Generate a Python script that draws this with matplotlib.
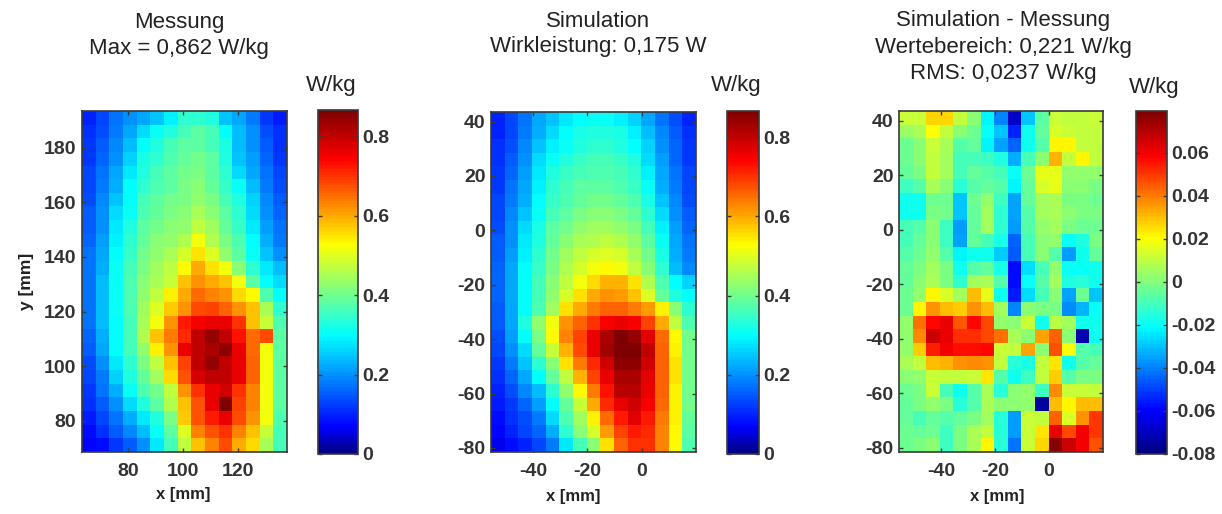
import matplotlib
matplotlib.use("Agg")
import matplotlib.pyplot as plt
from matplotlib.colors import LinearSegmentedColormap
import numpy as np

plt.rcParams['font.family'] = ['Liberation Sans', 'DejaVu Sans']
plt.rcParams['axes.unicode_minus'] = False

W = 1222
H = 514

# Messung, W/kg, top row first
messung = [
    [.10, .13, .17, .20, .22, .25, .29, .34, .34, .33, .25, .22, .18, .12, .09],
    [.11, .14, .18, .22, .27, .31, .33, .36, .38, .36, .30, .24, .20, .14, .11],
    [.12, .15, .19, .24, .30, .33, .36, .38, .38, .36, .32, .24, .20, .15, .11],
    [.12, .16, .20, .26, .32, .34, .37, .39, .40, .38, .33, .25, .21, .16, .12],
    [.13, .17, .22, .28, .33, .36, .38, .40, .41, .38, .34, .27, .22, .17, .13],
    [.13, .18, .23, .30, .34, .37, .38, .41, .42, .39, .35, .31, .24, .18, .14],
    [.14, .19, .25, .30, .36, .38, .40, .41, .43, .41, .36, .33, .26, .19, .15],
    [.15, .20, .27, .31, .37, .39, .41, .42, .45, .42, .38, .34, .27, .20, .16],
    [.15, .20, .28, .33, .38, .40, .42, .43, .47, .44, .39, .35, .28, .21, .17],
    [.16, .21, .29, .34, .39, .42, .43, .46, .52, .46, .41, .37, .30, .23, .18],
    [.17, .22, .30, .35, .40, .43, .45, .49, .55, .50, .43, .38, .31, .25, .20],
    [.17, .23, .31, .36, .41, .44, .47, .53, .60, .55, .52, .42, .34, .28, .24],
    [.17, .24, .31, .37, .42, .45, .48, .58, .62, .60, .58, .52, .38, .30, .27],
    [.17, .24, .31, .37, .43, .47, .54, .60, .65, .63, .62, .56, .53, .37, .30],
    [.17, .24, .31, .37, .44, .50, .57, .62, .68, .69, .66, .62, .58, .45, .34],
    [.17, .24, .30, .36, .45, .52, .62, .72, .75, .76, .76, .70, .58, .48, .37],
    [.16, .23, .30, .36, .46, .58, .64, .71, .80, .84, .80, .73, .65, .68, .38],
    [.15, .22, .30, .36, .43, .54, .62, .76, .80, .82, .85, .76, .65, .52, .38],
    [.14, .20, .28, .34, .41, .47, .58, .69, .80, .84, .80, .76, .66, .52, .38],
    [.13, .18, .26, .33, .39, .44, .56, .67, .78, .80, .80, .76, .66, .52, .38],
    [.12, .17, .23, .31, .37, .40, .47, .62, .70, .76, .79, .70, .63, .52, .38],
    [.11, .15, .20, .27, .33, .38, .46, .58, .67, .76, .86, .69, .63, .52, .38],
    [.09, .13, .17, .23, .28, .33, .41, .57, .67, .72, .76, .68, .62, .52, .37],
    [.08, .11, .15, .19, .24, .31, .38, .50, .63, .67, .70, .63, .58, .48, .36],
    [.07, .08, .12, .15, .20, .28, .36, .47, .58, .63, .68, .60, .56, .45, .36],
]

simulation = [
    [.10, .13, .17, .22, .25, .28, .30, .31, .31, .29, .26, .22, .17, .14, .10],
    [.10, .13, .18, .23, .27, .30, .32, .33, .33, .32, .29, .24, .19, .15, .11],
    [.11, .14, .19, .25, .29, .31, .33, .34, .34, .33, .30, .26, .20, .16, .12],
    [.11, .15, .20, .27, .31, .33, .35, .36, .36, .35, .33, .27, .21, .16, .12],
    [.12, .16, .21, .28, .33, .35, .36, .37, .37, .36, .34, .29, .22, .17, .13],
    [.12, .17, .22, .29, .34, .36, .38, .38, .38, .37, .35, .31, .23, .18, .13],
    [.13, .18, .23, .30, .35, .37, .39, .40, .40, .39, .37, .32, .25, .19, .14],
    [.13, .19, .25, .31, .36, .38, .41, .42, .42, .41, .39, .34, .27, .20, .15],
    [.14, .20, .27, .32, .38, .40, .43, .44, .44, .43, .41, .36, .29, .21, .16],
    [.15, .20, .28, .33, .39, .42, .45, .46, .47, .46, .43, .38, .31, .22, .17],
    [.15, .21, .29, .34, .40, .44, .47, .49, .50, .49, .45, .40, .32, .23, .18],
    [.16, .22, .30, .35, .41, .46, .49, .52, .53, .52, .47, .42, .34, .24, .19],
    [.16, .22, .30, .36, .42, .47, .52, .56, .59, .59, .55, .46, .37, .30, .26],
    [.16, .22, .30, .36, .43, .49, .55, .60, .62, .61, .58, .50, .39, .33, .30],
    [.15, .22, .30, .37, .44, .55, .60, .64, .66, .66, .64, .61, .54, .42, .34],
    [.15, .22, .33, .43, .52, .62, .66, .70, .75, .76, .75, .69, .60, .47, .37],
    [.14, .21, .30, .41, .53, .63, .69, .76, .82, .86, .84, .77, .65, .53, .40],
    [.13, .20, .27, .39, .48, .59, .68, .76, .83, .86, .86, .80, .66, .54, .40],
    [.12, .18, .25, .34, .42, .55, .64, .71, .79, .85, .85, .79, .66, .55, .40],
    [.11, .16, .22, .30, .39, .47, .59, .69, .76, .82, .82, .77, .66, .55, .40],
    [.10, .14, .19, .24, .34, .43, .53, .64, .73, .81, .81, .76, .66, .54, .40],
    [.09, .12, .16, .21, .30, .39, .48, .60, .71, .76, .79, .75, .65, .54, .40],
    [.08, .11, .14, .18, .27, .37, .44, .54, .65, .72, .77, .72, .64, .54, .39],
    [.07, .10, .13, .16, .23, .34, .42, .49, .61, .69, .72, .71, .63, .53, .38],
    [.06, .08, .10, .13, .18, .28, .36, .42, .55, .66, .70, .70, .63, .53, .37],
]

differenz = [
    [.012, .012, .026, .026, .010, .002, -.022, -.04, -.068, -.03, -.006, .012, .010, .010, .012],
    [.004, .007, .020, .010, .001, -.003, -.02, -.03, -.055, -.018, -.005, .014, .012, .010, .010],
    [-.003, .001, .012, .007, -.007, -.005, -.022, -.034, -.045, -.018, -.007, .022, .022, .010, .010],
    [-.003, .001, .010, .005, -.009, -.009, -.011, -.016, -.033, -.009, .001, .032, .010, .022, .010],
    [-.005, -.001, .010, .005, -.009, -.005, -.007, -.009, -.02, -.003, .016, .016, .003, .003, .003],
    [-.011, -.007, .007, .001, -.015, -.007, -.005, -.007, -.022, -.005, .014, .016, .001, .001, -.001],
    [-.018, -.018, -.003, -.003, -.03, -.003, .003, -.011, -.034, -.005, .005, .007, -.001, -.001, -.003],
    [-.018, -.018, -.001, -.002, -.03, -.005, .005, -.013, -.034, -.007, .005, .007, .001, -.001, -.001],
    [-.009, -.007, .001, -.011, -.036, -.005, .005, -.013, -.036, -.007, .003, .005, -.001, -.003, -.003],
    [-.009, -.005, .001, -.011, -.034, -.005, -.009, -.017, -.044, -.009, .001, .003, -.02, -.016, -.001],
    [-.007, -.003, .003, -.007, -.022, -.018, -.018, -.028, -.046, -.009, .001, -.007, -.036, -.018, -.005],
    [-.005, -.001, .005, -.001, -.018, -.007, -.005, -.017, -.058, -.026, -.009, .003, -.02, -.02, -.018],
    [-.005, .001, .007, -.001, -.013, .005, .007, -.007, -.058, -.02, -.007, .005, -.016, -.015, -.018],
    [-.003, .003, .022, .014, .005, .03, .016, -.018, -.056, -.026, -.009, .001, -.034, -.003, -.03],
    [-.003, .022, .036, .03, .028, .036, .03, .005, -.04, .001, -.001, -.001, -.038, -.032, -.02],
    [.003, .042, .058, .062, .045, .058, .048, .003, .001, .012, -.018, .009, .005, -.018, -.018],
    [.003, .038, .066, .062, .052, .052, .048, .042, .007, .001, .034, .044, .001, -.072, -.018],
    [.003, .028, .054, .06, .056, .056, .058, .012, .010, .034, .001, .046, .02, -.007, -.009],
    [.007, .010, .03, .032, .036, .038, .036, .010, -.015, -.017, .010, .024, -.018, -.007, -.005],
    [.001, .003, .012, .010, .010, .012, .024, -.007, -.018, -.011, .010, .028, -.007, -.001, -.001],
    [-.003, -.001, .012, -.009, -.018, -.007, .007, -.015, .001, .003, -.011, .038, .012, .012, .010],
    [-.005, -.001, .003, -.001, -.015, -.007, .007, .001, .001, .003, -.075, .03, .022, .03, .03],
    [-.005, -.009, -.005, -.007, -.005, -.001, .005, -.015, -.036, .012, .010, .044, .014, .036, .05],
    [-.003, -.005, -.003, -.011, -.001, .007, .010, -.015, -.036, .012, .024, .062, .048, .06, .05],
    [-.003, -.001, .001, -.011, -.001, .007, .022, -.015, -.042, .012, .026, .078, .066, .06, .046],
]

x_ticks_mess = [80, 100, 120]
y_ticks_mess = [80, 100, 120, 140, 160, 180]
x_ticks_sim = [-40, -20, 0]
y_ticks_sim = [-80, -60, -40, -20, 0, 20, 40]
cb_ticks_w = [0, .2, .4, .6, .8]
cb_labels_w = ['0', '0.2', '0.4', '0.6', '0.8']
cb_ticks_diff = [-.08, -.06, -.04, -.02, 0, .02, .04, .06]
cb_labels_diff = ['-0.08', '-0.06', '-0.04', '-0.02', '0', '0.02', '0.04', '0.06']

title_mess = "Messung\nMax = 0,862 W/kg"
title_sim = "Simulation\nWirkleistung: 0,175 W"
title_diff = "Simulation - Messung\nWertebereich: 0,221 W/kg\nRMS: 0,0237 W/kg"

TEXTCOL = '#222222'
FRAME = '#3a3a3a'
# anchors, the ramp is a bit squeezed compared to plain jet
jet_w = LinearSegmentedColormap.from_list('jet_w', [
    (0, (0, 0, .5)), (.075, (0, 0, 1)), (.345, (0, 1, 1)), (.61, (1, 1, 0)),
    (.86, (1, 0, 0)), (1, (.5, 0, 0))], N=128)
jet_d = LinearSegmentedColormap.from_list('jet_d', [
    (0, (0, 0, .5)), (.125, (0, 0, 1)), (.37, (0, 1, 1)), (.63, (1, 1, 0)),
    (.87, (1, 0, 0)), (1, (.5, 0, 0))], N=128)


def box(l, t, r, b):
    return [l / W, 1 - b / H, (r - l) / W, (b - t) / H]


def label(x, y, s, **kw):
    return fig.text(x / W, 1 - y / H, s, ha='center', va='center', color=TEXTCOL, **kw)


def panel(data, extent, pos, cpos, xt, yt, cmap, vmin, vmax, cbt, cbl):
    ax = fig.add_axes(box(*pos))
    im = ax.imshow(np.array(data), extent=extent, origin='upper', aspect='auto',
                   cmap=cmap, vmin=vmin, vmax=vmax, interpolation='nearest')
    ax.set_xticks(xt)
    ax.set_yticks(yt)
    ax.tick_params(direction='in', top=True, right=True, length=3, width=1, color=FRAME,
                   labelsize=14, labelcolor='#333333', pad=4)
    ax.tick_params(axis='x', pad=8)
    for t in ax.get_xticklabels() + ax.get_yticklabels():
        t.set_fontweight('bold')
    for s in ax.spines.values():
        s.set_color(FRAME)
        s.set_linewidth(1.2)

    cax = fig.add_axes(box(*cpos))
    cb = fig.colorbar(im, cax=cax)
    cb.set_ticks(cbt)
    cb.set_ticklabels(cbl)
    cax.tick_params(direction='in', left=True, right=True, length=3, width=1, color=FRAME,
                    labelsize=14, labelcolor='#333333', pad=3)
    for t in cax.get_yticklabels():
        t.set_fontweight('bold')
    cb.outline.set_edgecolor(FRAME)
    cb.outline.set_linewidth(1.2)
    return ax


fig = plt.figure(figsize=(W / 100, H / 100), dpi=100, facecolor='white')

panel(messung, [63, 138, 68.5, 193.5], (82, 111, 287, 452), (318, 110, 358, 454),
      x_ticks_mess, y_ticks_mess, jet_w, 0, .866, cb_ticks_w, cb_labels_w)
panel(simulation, [-55.5, 20, -81.5, 43.5], (491, 112, 696, 452), (727, 111, 759, 454),
      x_ticks_sim, y_ticks_sim, jet_w, 0, .866, cb_ticks_w, cb_labels_w)
panel(differenz, [-55.5, 20, -81.5, 43.5], (899, 111, 1103, 452), (1136, 111, 1167, 454),
      x_ticks_sim, y_ticks_sim, jet_d, -.08, .0795, cb_ticks_diff, cb_labels_diff)

label(179, 35.5, title_mess, fontsize=16, linespacing=1.35)
label(598.5, 34, title_sim, fontsize=16, linespacing=1.25)
label(1003, 47, title_diff, fontsize=16, linespacing=1.35)

label(331, 86, "W/kg", fontsize=16)
label(736, 86, "W/kg", fontsize=16)
label(1154, 87, "W/kg", fontsize=16)

label(183, 495, "x [mm]", fontsize=12, fontweight='bold')
label(573, 496, "x [mm]", fontsize=12, fontweight='bold')
label(997, 496, "x [mm]", fontsize=12, fontweight='bold')
label(27, 281, "y [mm]", fontsize=12.5, fontweight='bold', rotation=90)

fig.savefig('out.png', dpi=100)
